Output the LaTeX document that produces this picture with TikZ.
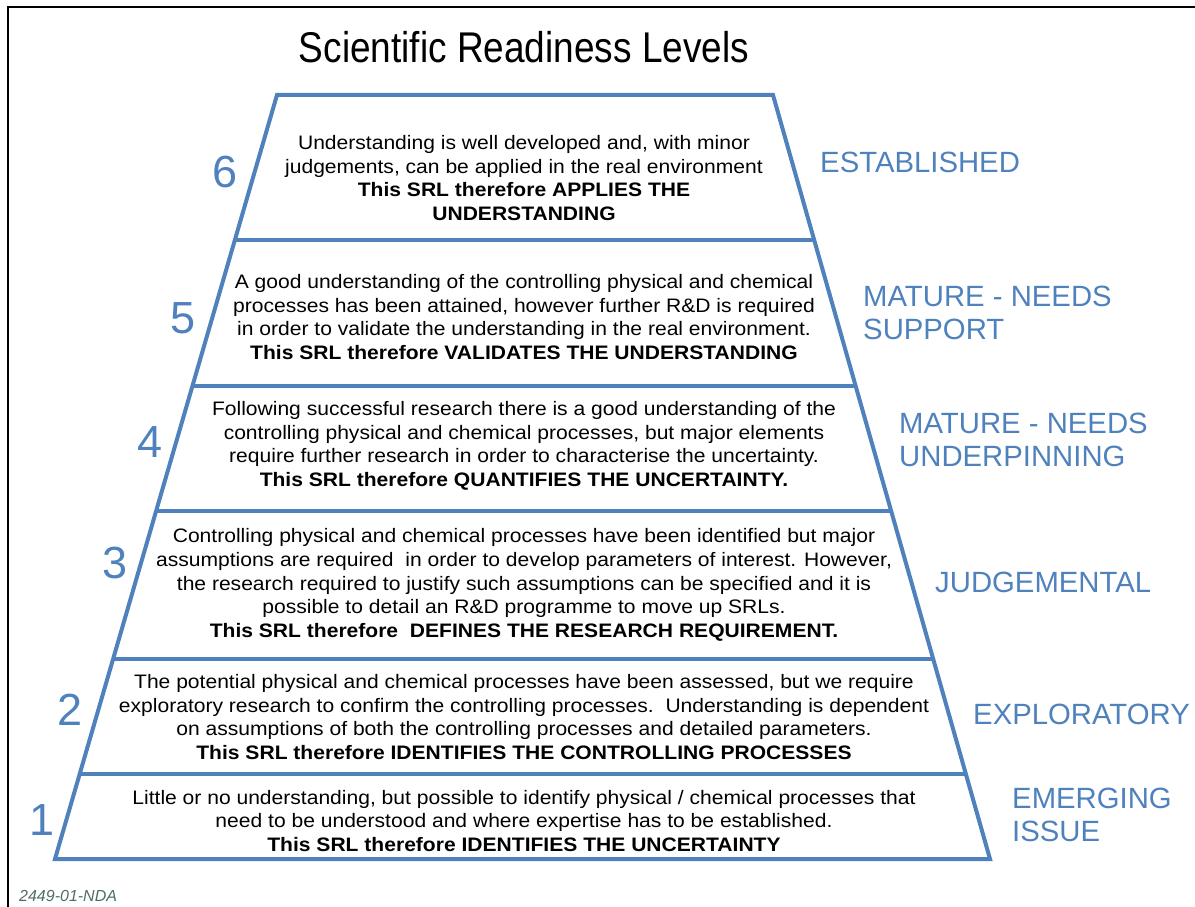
\documentclass[tikz,border=0pt]{standalone}
\usepackage{fontspec}
\setmainfont{Liberation Sans}
\newfontfamily\widefont[FakeStretch=1.08]{Liberation Sans}
\newfontfamily\narrowfont[FakeStretch=0.86]{Liberation Sans}
\usepackage{tikz}
\usetikzlibrary{calc}
\definecolor{srlblue}{HTML}{4F81BD}
\definecolor{codegray}{HTML}{4F6E62}
\tikzset{
  pyramid/.style={draw=srlblue, line width=4pt, line join=miter},
  body/.style={align=center, inner sep=0pt, font=\widefont\fontsize{19.5}{23.6}\selectfont},
  levelnum/.style={inner sep=0pt, text=srlblue, font=\fontsize{45}{50}\selectfont},
  stage/.style={anchor=west, align=left, inner sep=0pt, text=srlblue, font=\fontsize{29.3}{33.5}\selectfont},
}

\begin{document}
\begin{tikzpicture}[x=1pt, y=-1pt]
  \useasboundingbox (0,0) rectangle (1195,907);
  \draw[line width=2pt] (7.5,907) -- (7.5,7.5) -- (1195,7.5);
  \node[inner sep=0pt, font=\narrowfont\fontsize{43}{48}\selectfont] (title) at (524,47) {Scientific Readiness Levels};

  % pyramid outline and level dividers
  \coordinate (tl) at (277,95);
  \coordinate (tr) at (773,95);
  \coordinate (br) at (990,859);
  \coordinate (bl) at (55,859);
  \draw[pyramid] (tl) -- (tr) -- (br) -- (bl) -- cycle;
  \foreach \f in {0.1898,0.3809,0.5445,0.7382,0.8887}
    \draw[pyramid] ($(tl)!\f!(bl)$) -- ($(tr)!\f!(br)$);

  % level texts
  \node[body] (txt6) at (524,178) {Understanding is well developed and, with minor\\
    judgements, can be applied in the real environment\\
    \textbf{This SRL therefore APPLIES THE}\\ \textbf{UNDERSTANDING}};
  \node[body] (txt5) at (524,317) {A good understanding of the controlling physical and chemical\\
    processes has been attained, however further R\&D is required\\
    in order to validate the understanding in the real environment.\\
    \textbf{This SRL therefore VALIDATES THE UNDERSTANDING}};
  \node[body] (txt4) at (524,446) {Following successful research there is a good understanding of the\\
    controlling physical and chemical processes, but major elements\\
    require further research in order to characterise the uncertainty.\\
    \textbf{This SRL therefore QUANTIFIES THE UNCERTAINTY.}};
  \node[body] (txt3) at (524,585) {Controlling physical and chemical processes have been identified but major\\
    assumptions are required\ \ in order to develop parameters of interest. However,\\
    the research required to justify such assumptions can be specified and it is\\
    possible to detail an R\&D programme to move up SRLs.\\
    \textbf{This SRL therefore\ \ DEFINES THE RESEARCH REQUIREMENT.}};
  \node[body] (txt2) at (524,717) {The potential physical and chemical processes have been assessed, but we require\\
    exploratory research to confirm the controlling processes.\ \ Understanding is dependent\\
    on assumptions of both the controlling processes and detailed parameters.\\
    \textbf{This SRL therefore IDENTIFIES THE CONTROLLING PROCESSES}};
  \node[body] (txt1) at (524,821) {Little or no understanding, but possible to identify physical / chemical processes that\\
    need to be understood and where expertise has to be established.\\
    \textbf{This SRL therefore IDENTIFIES THE UNCERTAINTY}};

  % level numbers
  \node[levelnum] (num6) at (225,172) {6};
  \node[levelnum] (num5) at (183,318) {5};
  \node[levelnum] (num4) at (150,442) {4};
  \node[levelnum] (num3) at (115,563) {3};
  \node[levelnum] (num2) at (70,710) {2};
  \node[levelnum] (num1) at (42,820) {1};

  % stage names
  \node[stage] (stage6) at (820,162) {ESTABLISHED};
  \node[stage] (stage5) at (863,313) {MATURE - NEEDS\\SUPPORT};
  \node[stage] (stage4) at (899,440) {MATURE - NEEDS\\UNDERPINNING};
  \node[stage] (stage3) at (935,582) {JUDGEMENTAL};
  \node[stage] (stage2) at (973,714) {EXPLORATORY};
  \node[stage] (stage1) at (1012,815) {EMERGING\\ISSUE};

  \node[anchor=west, inner sep=0pt, text=codegray, font=\fontsize{16}{18}\selectfont\itshape] (ref) at (19,896) {2449-01-NDA};
\end{tikzpicture}
\end{document}
